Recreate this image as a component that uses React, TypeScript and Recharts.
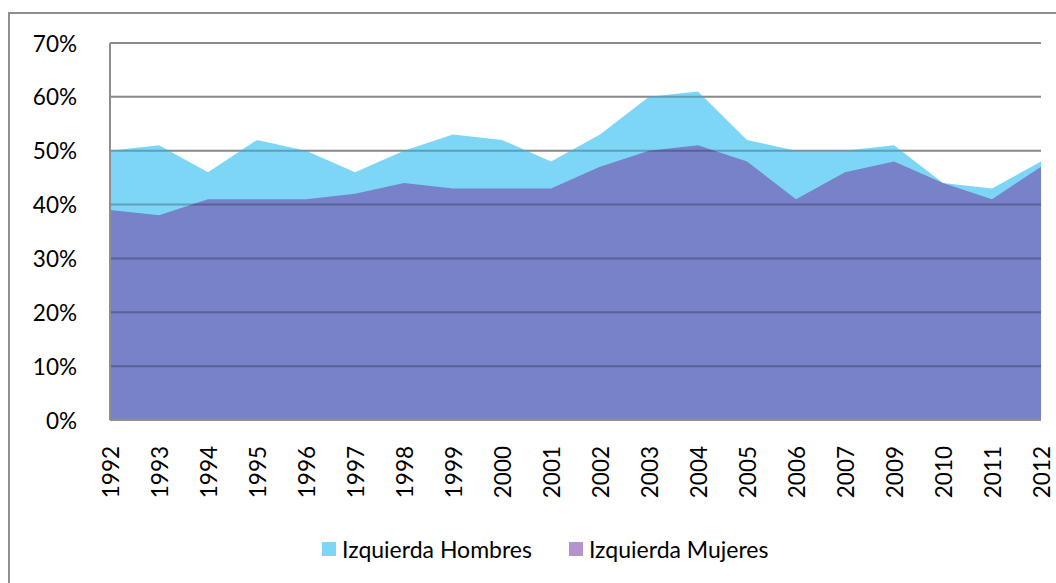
import React from "react";
import { AreaChart, Area, XAxis, YAxis, ReferenceLine, CartesianGrid } from "recharts";

const years = ["1992","1993","1994","1995","1996","1997","1998","1999","2000","2001","2002","2003","2004","2005","2006","2007","2009","2010","2011","2012"];
const hombres = [50,51,46,52,50,46,50,53,52,48,53,60,61,52,50,50,51,44,43,48];
const mujeres = [39,38,41,41,41,42,44,43,43,43,47,50,51,48,41,46,48,44,41,47];
const yTicks = [0,10,20,30,40,50,60,70];
const seriesNames = ["Izquierda Hombres", "Izquierda Mujeres"];

const data = years.map((y, i) => ({ year: y, h: hombres[i], m: mujeres[i] }));

const FONT = "Lato, 'Open Sans', sans-serif";

const XTick = (props: any) => {
  const { x, y, payload } = props;
  return (
    <text
      transform={`translate(${x},${y + 18}) rotate(-90)`}
      textAnchor="end"
      dominantBaseline="central"
      fontFamily={FONT}
      fontSize={22.5}
      fill="#000"
    >
      {payload.value}
    </text>
  );
};

const YTick = (props: any) => {
  const { x, y, payload } = props;
  return (
    <text x={x} y={y} textAnchor="end" dominantBaseline="central" fontFamily={FONT} fontSize={22.5} fill="#000">
      {payload.value}%
    </text>
  );
};

export default function App() {
  return (
    <div style={{ position: "absolute", left: 0, top: 0, width: 1056, height: 583, background: "#fff", overflow: "hidden" }}>
      <div style={{ position: "absolute", left: 8, top: 12, width: 1100, height: 620, border: "2px solid #8e8e8e", boxSizing: "border-box" }} />
      <div style={{ position: "absolute", left: 0, top: 0 }}>
        <AreaChart width={1056} height={583} data={data} margin={{ top: 43, right: 15, bottom: 93, left: 0 }}>
          <CartesianGrid vertical={false} stroke="#b8b8b8" strokeWidth={2} />
          <XAxis
            dataKey="year"
            tick={<XTick />}
            tickLine={false}
            axisLine={{ stroke: "#8e8e8e", strokeWidth: 2 }}
            interval={0}
            height={70}
          />
          <YAxis
            domain={[0, 70]}
            ticks={yTicks}
            tick={<YTick />}
            tickLine={false}
            axisLine={{ stroke: "#8e8e8e", strokeWidth: 2 }}
            width={110}
            tickMargin={27}
          />
          <Area type="linear" dataKey="h" fill="#7dd6f5" fillOpacity={1} stroke="none" isAnimationActive={false} />
          <Area type="linear" dataKey="m" fill="#7782c8" fillOpacity={1} stroke="none" isAnimationActive={false} />
          {yTicks.filter((t) => t > 0).map((t) => (
            <ReferenceLine key={t} y={t} stroke="#000" strokeOpacity={0.25} strokeWidth={2} />
          ))}
        </AreaChart>
      </div>
      <div style={{ position: "absolute", top: 535, left: 322, display: "flex", alignItems: "center", fontFamily: FONT, fontSize: 23, color: "#000" }}>
        <span style={{ display: "inline-block", width: 14, height: 14, background: "#7dd6f5", marginRight: 6 }} />
        <span style={{ marginRight: 37 }}>{seriesNames[0]}</span>
        <span style={{ display: "inline-block", width: 14, height: 14, background: "#b394d0", marginRight: 6 }} />
        <span>{seriesNames[1]}</span>
      </div>
    </div>
  );
}
